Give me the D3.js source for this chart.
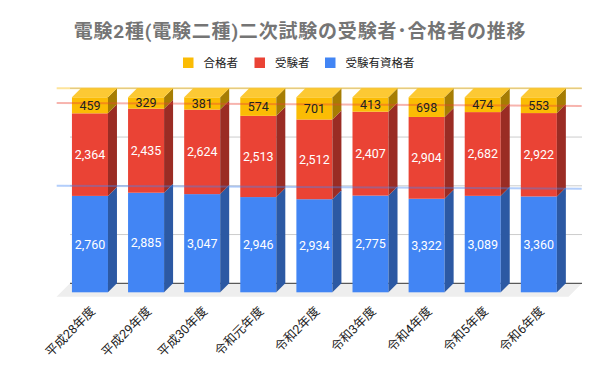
<!DOCTYPE html>
<html><head><meta charset="utf-8">
<script src="https://cdn.jsdelivr.net/npm/d3@7"></script>
<style>body{margin:0;background:#fff}svg{display:block}</style>
</head><body>
<svg id="c" width="600" height="371"></svg>
<script>
const categories = ["平成28年度","平成29年度","平成30年度","令和元年度","令和2年度","令和3年度","令和4年度","令和5年度","令和6年度"];
const eligible  = [2760,2885,3047,2946,2934,2775,3322,3089,3360]; // 受験有資格者
const examinees = [2364,2435,2624,2513,2512,2407,2904,2682,2922]; // 受験者
const passed    = [459,329,381,574,701,413,698,474,553];          // 合格者
const seriesNames = ["受験有資格者","受験者","合格者"];
const legendOrder = ["合格者","受験者","受験有資格者"];
const title = "電験2種(電験二種)二次試験の受験者･合格者の推移";

const colors = {"受験有資格者":"#4285f4","受験者":"#ea4335","合格者":"#fbbc04"};
const sideColors = {"受験有資格者":"#2c59a3","受験者":"#9a2c24","合格者":"#a67d03"};
const topColor = "#fcc934";
const labelColors = {"受験有資格者":"#fff","受験者":"#fff","合格者":"#222"};
const FONT = "Roboto, 'Noto Sans CJK JP', sans-serif";

const svg = d3.select("#c");
const rows = categories.map((c,i)=>({cat:c,"受験有資格者":eligible[i],"受験者":examinees[i],"合格者":passed[i]}));
const stack = d3.stack().keys(seriesNames).offset(d3.stackOffsetExpand)(rows);

const x = d3.scaleBand().domain(categories).range([70.9,575.9]).paddingInner(0.358).paddingOuter(0.179);
const y = d3.scaleLinear().domain([0,1]).range([283.3,88.3]);
const DX = 9, DY = 9;          // bar depth
const wallL = 70, wallR = 582;
const FD = 13.5;               // floor depth

// title
svg.append("text").attr("x",300).attr("y",38).attr("text-anchor","middle")
  .attr("font-family",FONT).attr("font-size",19).attr("font-weight","bold")
  .attr("letter-spacing",0.8).attr("fill","#757575").text(title);

// legend
const lg = svg.append("g").attr("font-family",FONT).attr("font-size",11.5).attr("fill","#222");
const legX = [183, 254.5, 325];
legendOrder.forEach((k,i)=>{
  lg.append("rect").attr("x",legX[i]).attr("y",57.5).attr("width",10.5).attr("height",10.5).attr("fill",colors[k]);
  lg.append("text").attr("x",legX[i]+20.5).attr("y",66.8).text(k);
});

// floor
svg.append("path").attr("fill","#eeeeee")
  .attr("d",`M${wallL},${y(0)}L${wallR},${y(0)}L${wallR-FD},${y(0)+FD}L${wallL-FD},${y(0)+FD}Z`);

// gridlines
svg.append("g").selectAll("line").data([0.25,0.5,0.75,1]).join("line")
  .attr("x1",wallL).attr("x2",wallR).attr("y1",d=>y(d)).attr("y2",d=>y(d))
  .attr("stroke","#cccccc").attr("stroke-width",1);
svg.append("line").attr("x1",wallL).attr("x2",wallR).attr("y1",y(0)).attr("y2",y(0))
  .attr("stroke","#333").attr("stroke-width",1);

// bars
const w = x.bandwidth();
const bars = svg.append("g");
stack.forEach((s,si)=>{
  const key = s.key;
  s.forEach((d,i)=>{
    const bx = x(categories[i]) - DX;
    const y0 = y(d[0]) + DY, y1 = y(d[1]) + DY;
    bars.append("rect").attr("x",bx).attr("y",y1).attr("width",w).attr("height",y0-y1).attr("fill",colors[key]);
    bars.append("path").attr("fill",sideColors[key])
      .attr("d",`M${bx+w},${y0}L${bx+w},${y1}L${bx+w+DX},${y1-DY}L${bx+w+DX},${y0-DY}Z`);
    if(si===stack.length-1){
      bars.append("path").attr("fill",topColor)
        .attr("d",`M${bx},${y1}L${bx+w},${y1}L${bx+w+DX},${y1-DY}L${bx+DX},${y1-DY}Z`);
    }
  });
});

// trendlines (linear regression on stacked share)
const idx = categories.map((c,i)=>i);
const centerF = i => x(categories[0]) - DX + w/2 + i*x.step();
const tOf = px => (px - centerF(0))/x.step();
const tL = tOf(56.7), tR = tOf(581.7);
stack.forEach(s=>{
  const vals = s.map(d=>d[1]);
  const mx = d3.mean(idx), my = d3.mean(vals);
  const slope = d3.sum(idx,(t,i)=>(t-mx)*(vals[i]-my))/d3.sum(idx,t=>(t-mx)*(t-mx));
  const f = t => my + slope*(t-mx);
  svg.append("line").attr("x1",56.7).attr("x2",581.7).attr("y1",y(f(tL))).attr("y2",y(f(tR)))
    .attr("stroke",colors[s.key]).attr("stroke-opacity",0.4).attr("stroke-width",2);
});

// value labels
const lab = svg.append("g").attr("font-family",FONT).attr("font-size",12.5).attr("text-anchor","middle");
stack.forEach(s=>{
  const raw = s.key==="受験有資格者"?eligible:(s.key==="受験者"?examinees:passed);
  s.forEach((d,i)=>{
    const cx = x(categories[i]) - DX + w/2;
    const cy = (y(d[0])+y(d[1]))/2 + DY;
    lab.append("text").attr("x",cx).attr("y",cy).attr("dy","0.36em")
      .attr("fill",labelColors[s.key]).text(d3.format(",")(raw[i]));
  });
});

// x axis labels
const xl = svg.append("g").attr("font-family",FONT).attr("font-size",12.5).attr("fill","#222").attr("text-anchor","end");
categories.forEach((c,i)=>{
  const px = x(c) - DX + w/2 + 6, py = 312;
  xl.append("text").attr("transform",`translate(${px},${py}) rotate(-45)`).text(c);
});
</script>
</body></html>
